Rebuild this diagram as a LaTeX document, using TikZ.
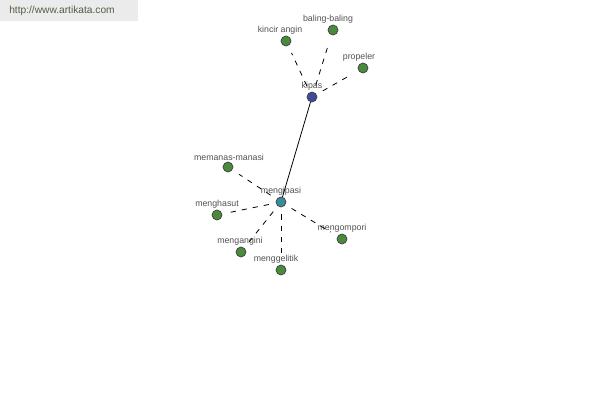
\documentclass[tikz,border=0pt]{standalone}
\usepackage{fontspec}
\setmainfont{Liberation Sans}

\begin{document}
\begin{tikzpicture}[x=0.02cm,y=-0.02cm,
  word/.style={circle,draw=black!75,line width=0.4pt,minimum size=0.2cm,inner sep=0pt},
  tag/.style={font=\fontsize{5}{5.5}\selectfont,text=black!68,inner sep=0.6pt},
  link/.style={dash pattern=on 3pt off 3.4pt,line width=0.45pt,shorten <=4pt,shorten >=4.5pt}]
\definecolor{leafgreen}{HTML}{4A8A3C}
\definecolor{kipasblue}{HTML}{3E4A9C}
\definecolor{ipasteal}{HTML}{3A8C98}
\definecolor{markgray}{HTML}{EBEBEB}
\definecolor{marktext}{HTML}{4E5E44}
\useasboundingbox (0,0) rectangle (600,400);
\fill[white] (0,0) rectangle (600,400);
\fill[markgray] (0,0) rectangle (138,21);
\node[font=\fontsize{5.8}{6.5}\selectfont,text=marktext] (site) at (62,11) {http://www.artikata.com};
% hubs
\node[word,fill=kipasblue,label={[tag]above:kipas}] (kipas) at (312,97) {};
\node[word,fill=ipasteal,label={[tag]above:mengipasi}] (mengipasi) at (281,202) {};
% leaves
  \foreach \nm/\x/\y/\dx/\txt in {kincir/286/41/-6/kincir angin,baling/333/30/-5/baling-baling,propeler/363/68/-4/propeler,
    memanas/228/167/1/memanas-manasi,menghasut/217/215/0/menghasut,mengangini/241/252/-1/mengangini,
    menggelitik/281/270/-5/menggelitik,mengompori/342/239/0/mengompori}
  {  \node [word,fill=leafgreen,label={[tag,xshift=\dx*0.02cm]above:\txt}] (\nm) at (\x,\y) {};}
\draw[line width=0.45pt] (kipas) -- (mengipasi);
  \foreach \nm in {kincir,baling,propeler}
  {  \draw [link] (kipas) -- (\nm);}
  \foreach \nm in {memanas,menghasut,mengangini,menggelitik,mengompori}
  {  \draw [link] (mengipasi) -- (\nm);}
\end{tikzpicture}
\end{document}
